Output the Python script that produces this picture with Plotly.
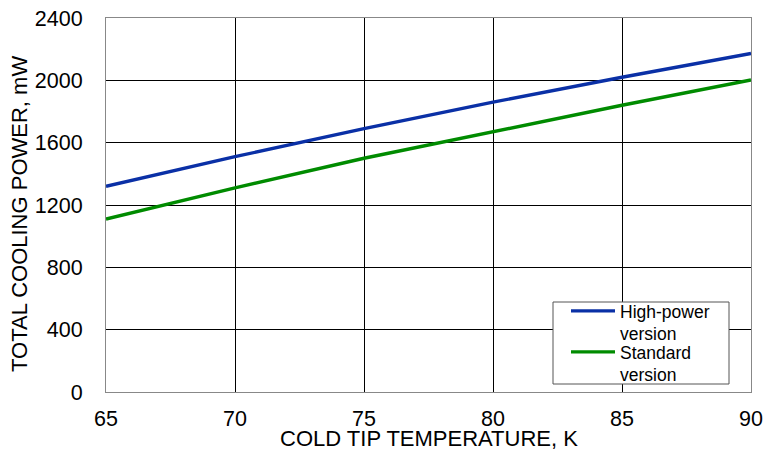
import plotly.graph_objects as go

temperature_k = [65, 70, 75, 80, 85, 90]
high_power_mw = [1320, 1510, 1690, 1860, 2020, 2172]
standard_mw = [1110, 1310, 1500, 1670, 1840, 2002]
x_ticks = [65, 70, 75, 80, 85, 90]
y_ticks = [0, 400, 800, 1200, 1600, 2000, 2400]

font = "Liberation Sans, Arial, sans-serif"
L, R, T, B = 106, 751, 18, 392
PW, PH = R - L, B - T


def px(x):
    return (x - L) / PW


def py(y):
    return (B - y) / PH


fig = go.Figure()
fig.add_trace(go.Scatter(x=temperature_k, y=high_power_mw, mode="lines",
                         name="High-power<br>version", legend="legend",
                         line=dict(color="#0A30A6", width=3.4)))
fig.add_trace(go.Scatter(x=temperature_k, y=standard_mw, mode="lines",
                         name="Standard<br>version", legend="legend2",
                         line=dict(color="#008B00", width=3.4)))

# legend frame
fig.add_shape(type="rect", xref="paper", yref="paper", layer="above",
              x0=px(553), x1=px(729), y0=py(384), y1=py(302),
              fillcolor="white", line=dict(color="#555555", width=1))

fig.add_annotation(text="COLD TIP TEMPERATURE, K", xref="paper", yref="paper",
                   x=px(428.5), y=py(451.5), xanchor="center", yanchor="bottom",
                   borderpad=0,
                   showarrow=False, font=dict(size=22, family=font, color="black"))
fig.add_annotation(text="TOTAL COOLING POWER, mW", xref="paper", yref="paper",
                   x=px(19), y=py(214), textangle=-90,
                   xanchor="center", yanchor="middle", showarrow=False,
                   font=dict(size=22, family=font, color="black"))

leg_common = dict(xanchor="left", yanchor="top", valign="top",
                  bgcolor="rgba(0,0,0,0)", borderwidth=0,
                  font=dict(size=17.5, family=font, color="black"),
                  itemwidth=44)

fig.update_layout(
    width=763, height=452,
    margin=dict(l=L, r=763 - R, t=T, b=452 - B, autoexpand=False),
    paper_bgcolor="white", plot_bgcolor="white",
    font=dict(family=font, size=18, color="black"),
    showlegend=True,
    legend=dict(x=px(566), y=py(293), **leg_common),
    legend2=dict(x=px(566), y=py(334), **leg_common),
    xaxis=dict(range=[65, 90], tickvals=x_ticks, showgrid=True,
               gridcolor="black", gridwidth=1, zeroline=False,
               showline=True, linecolor="#888888", linewidth=1, mirror=True,
               ticks="", automargin=False, ticklabelstandoff=7,
               tickfont=dict(size=21.5, family=font)),
    yaxis=dict(range=[0, 2400], tickvals=y_ticks, showgrid=True,
               gridcolor="black", gridwidth=1, zeroline=False,
               showline=True, linecolor="#888888", linewidth=1, mirror=True,
               ticks="", automargin=False, ticklabelstandoff=18,
               tickfont=dict(size=21.5, family=font)),
)
fig.write_html("out.html", config={"displayModeBar": False},
               post_script="document.body.style.margin='0';document.body.style.overflow='hidden';")
